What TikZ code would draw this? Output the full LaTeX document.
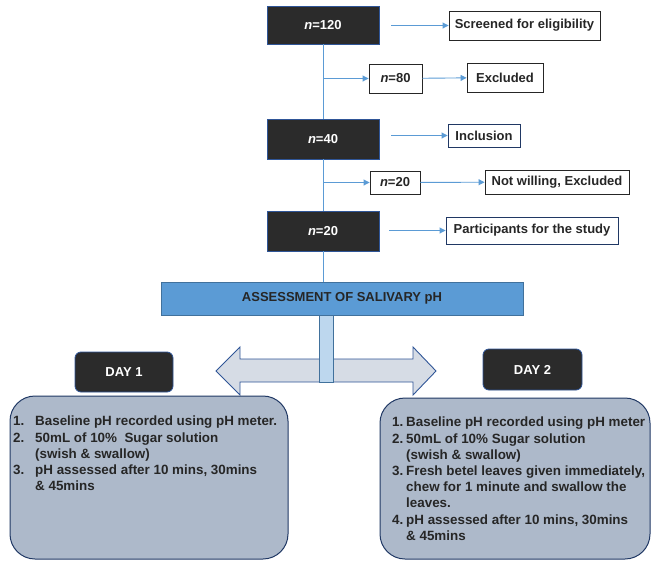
\documentclass[tikz,border=0pt]{standalone}
\usepackage{fontspec}
\setmainfont{Liberation Sans}
\usetikzlibrary{arrows.meta}
\definecolor{dark}{HTML}{2B2B2B}
\definecolor{lblue}{HTML}{5B9BD5}
\definecolor{mblue}{HTML}{41719C}
\definecolor{bblue}{HTML}{2F5597}
\definecolor{navy}{HTML}{203864}
\definecolor{pole}{HTML}{BDD7EE}
\definecolor{arrfill}{HTML}{D6DCE5}
\definecolor{dayfill}{HTML}{ADB9CA}
\definecolor{txt}{HTML}{262626}
\begin{document}
\begin{tikzpicture}[x=1pt,y=-1pt,
  blackbox/.style={draw=bblue, line width=0.8pt, fill=dark, text=white, font=\fontsize{13}{15}\selectfont\bfseries, minimum width=112pt, inner sep=0pt},
  whitebox/.style={draw=txt, line width=0.9pt, fill=white, text=txt, font=\fontsize{13}{15}\selectfont\bfseries, inner sep=0pt},
  bluebox/.style={whitebox, draw=navy},
  conn/.style={draw=lblue, line width=0.9pt},
  arr/.style={conn, -{Triangle[length=6pt,width=6pt]}},
  daybox/.style={draw=bblue, line width=0.8pt, fill=dark, text=white, rounded corners=6pt, font=\fontsize{13}{15}\selectfont\bfseries, inner sep=0pt},
  listbox/.style={draw=navy, line width=1pt, fill=dayfill, rounded corners=25pt, inner sep=0pt},
  listtext/.style={anchor=north west, inner sep=0pt, align=left, text=txt, font=\fontsize{13.4}{16.2}\selectfont\bfseries}
]
\useasboundingbox (0,0) rectangle (651,560);

% left column
\node[blackbox, minimum height=38pt] (b120) at (323,25) {\textit{n}=120};
\node[blackbox, minimum height=40pt] (b40) at (323,139) {\textit{n}=40};
\node[blackbox, minimum height=40pt] (b20) at (323,231) {\textit{n}=20};

% right boxes
\node[whitebox, minimum width=151pt, minimum height=29pt] (scr) at (524.5,25.5) {Screened for eligibility};
\node[whitebox, minimum width=53pt, minimum height=29pt] (n80) at (395.5,78.5) {\textit{n}=80};
\node[whitebox, minimum width=76pt, minimum height=29pt] (excl) at (505,77.5) {Excluded};
\node[bluebox, minimum width=72pt, minimum height=23pt] (incl) at (484,135.5) {Inclusion};
\node[whitebox, minimum width=50pt, minimum height=23pt] (n20s) at (395,182.5) {\textit{n}=20};
\node[whitebox, minimum width=144pt, minimum height=24pt] (notw) at (557,182) {Not willing, Excluded};
\node[bluebox, minimum width=172pt, minimum height=27pt] (part) at (532,230.5) {Participants for the study};

% connectors
\draw[conn] (b120) -- (b40);
\draw[conn] (b40) -- (b20);
\draw[arr] (b120.east |- scr.west) ++(12,0) -- (scr.west);
\draw[arr] (b120.south |- n80.west) -- (n80.west);
\draw[arr] (n80) -- (excl);
\draw[arr] (b40.east |- incl.west) ++(12,0) -- (incl.west);
\draw[arr] (b40.south |- n20s.west) -- (n20s.west);
\draw[arr] (n20s) -- (notw);
\draw[arr] (b20.east |- part.west) ++(10,0) -- (part.west);

% assessment
\node[draw=mblue, line width=0.9pt, fill=lblue, text=txt, minimum width=362pt, minimum height=33pt, inner sep=0pt, font=\fontsize{13}{15}\selectfont\bfseries] (assess) at (342,298.5) {ASSESSMENT OF SALIVARY pH};
\draw[conn] (b20.south) -- (b20.south |- assess.north);

% double arrow
\draw[draw=bblue, line width=0.9pt, fill=arrfill, line join=miter]
  (216,371) -- (240,347) -- (240,359) -- (413,359) -- (413,347) -- (436,371)
  -- (413,395) -- (413,382) -- (240,382) -- (240,395) -- cycle;
\node[draw=mblue, line width=0.9pt, fill=pole, minimum width=14pt, minimum height=67pt, inner sep=0pt] (polebar) at (326,348.5) {};

% days
\node[daybox, minimum width=98pt, minimum height=40pt] (day1) at (124,372) {DAY 1};
\node[daybox, minimum width=99pt, minimum height=41pt] (day2) at (532.5,369.5) {DAY 2};

\node[listbox, minimum width=278pt, minimum height=163pt] (list1) at (149,477.5) {};
\node[listbox, minimum width=270pt, minimum height=161pt] (list2) at (515,478.5) {};

\node[listtext] (t1) at (13,416) {%
\makebox[22pt][l]{1.}Baseline pH recorded using pH meter.\\
\makebox[22pt][l]{2.}50mL of 10\%\ \ Sugar solution\\
\hspace*{22pt}(swish \& swallow)\\
\makebox[22pt][l]{3.}pH assessed after 10 mins, 30mins\\
\hspace*{22pt}\& 45mins};

\node[listtext] (t2) at (392,417) {%
\makebox[14pt][l]{1.}Baseline pH recorded using pH meter\\
\makebox[14pt][l]{2.}50mL of 10\% Sugar solution\\
\hspace*{14pt}(swish \& swallow)\\
\makebox[14pt][l]{3.}Fresh betel leaves given immediately,\\
\hspace*{14pt}chew for 1 minute and swallow the\\
\hspace*{14pt}leaves.\\
\makebox[14pt][l]{4.}pH assessed after 10 mins, 30mins\\
\hspace*{14pt}\& 45mins};
\end{tikzpicture}
\end{document}
